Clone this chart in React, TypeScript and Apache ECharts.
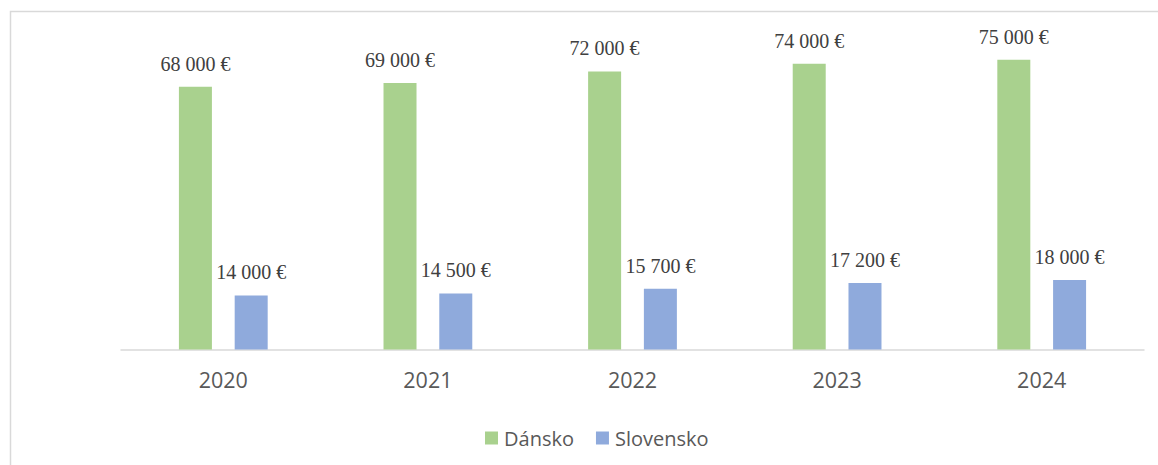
import React, { useEffect, useRef } from "react";
import * as echarts from "echarts";

const categories = ["2020", "2021", "2022", "2023", "2024"];
const dansko = [68000, 69000, 72000, 74000, 75000];
const slovensko = [14000, 14500, 15700, 17200, 18000];
const seriesNames = ["Dánsko", "Slovensko"];

const fmt = (v: number) => {
  const s = String(Math.round(v));
  return s.replace(/\B(?=(\d{3})+(?!\d))/g, " ") + " €";
};

export default function App() {
  const ref = useRef<HTMLDivElement>(null);
  useEffect(() => {
    if (!ref.current) return;
    const chart = echarts.init(ref.current, undefined, { renderer: "svg" });
    const labelCfg = {
      show: true,
      position: "top" as const,
      distance: 13,
      fontFamily: "'Liberation Serif', 'Times New Roman', serif",
      fontSize: 20,
      color: "#404040",
      formatter: (p: any) => fmt(p.value),
    };
    chart.setOption({
      animation: false,
      backgroundColor: "#ffffff",
      graphic: [
        {
          type: "rect",
          shape: { x: 10.5, y: 11.5, width: 1200, height: 500 },
          style: { fill: "none", stroke: "#d9d9d9", lineWidth: 1.5 },
          silent: true,
          z: -1,
        },
      ],
      grid: { left: 121, right: 14, top: 40.5, bottom: 115.5 },
      legend: {
        left: 480,
        top: 423,
        icon: "rect",
        itemWidth: 13,
        itemHeight: 13,
        itemGap: 22,
        textStyle: {
          fontFamily: "'Open Sans', 'Noto Sans', sans-serif",
          fontSize: 20,
          color: "#595959",
          padding: [0, 0, 0, 1],
        },
        data: seriesNames,
      },
      xAxis: {
        type: "category",
        data: categories,
        axisLine: { lineStyle: { color: "#d9d9d9", width: 1.5 } },
        axisTick: { show: false },
        axisLabel: {
          margin: 19,
          fontFamily: "'Open Sans', 'Noto Sans', sans-serif",
          fontSize: 21.5,
          color: "#595959",
        },
      },
      yAxis: {
        type: "value",
        min: 0,
        max: 80000,
        show: false,
        splitLine: { show: false },
      },
      series: [
        {
          name: seriesNames[0],
          type: "bar",
          data: dansko,
          barWidth: 33,
          barGap: "69%",
          itemStyle: { color: "#A9D18E" },
          label: labelCfg,
        },
        {
          name: seriesNames[1],
          type: "bar",
          data: slovensko,
          barWidth: 33,
          itemStyle: { color: "#8FAADC" },
          label: labelCfg,
        },
      ],
    });
    return () => chart.dispose();
  }, []);
  return (
    <div
      ref={ref}
      style={{ position: "absolute", left: 0, top: 0, width: 1158, height: 465 }}
    />
  );
}
